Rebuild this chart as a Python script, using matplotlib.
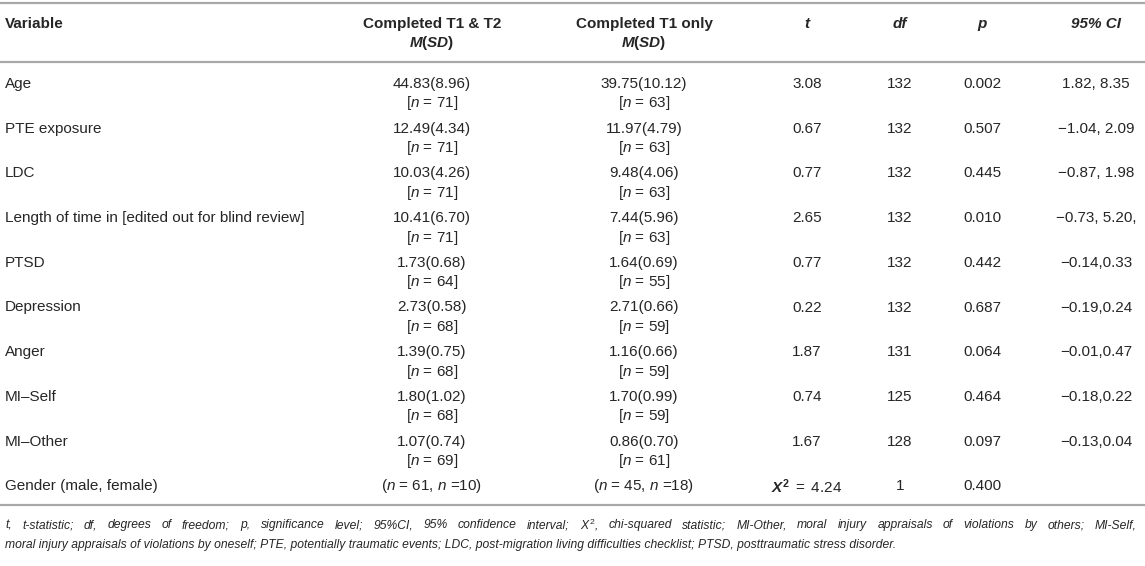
import matplotlib.pyplot as plt

plt.rcParams['font.family'] = ['Liberation Sans', 'DejaVu Sans']
plt.rcParams['mathtext.fontset'] = 'custom'
plt.rcParams['mathtext.rm'] = 'Liberation Sans'
plt.rcParams['mathtext.it'] = 'Liberation Sans:italic'
plt.rcParams['mathtext.bf'] = 'Liberation Sans:bold'
plt.rcParams['mathtext.bfit'] = 'Liberation Sans:bold:italic'

# ---------------- TABLE DATA ---------------- #

variables = ["Age", "PTE exposure", "LDC", "Length of time in [edited out for blind review]",
             "PTSD", "Depression", "Anger", "MI\u2013Self", "MI\u2013Other", "Gender (male, female)"]
msd_both = ["44.83(8.96)", "12.49(4.34)", "10.03(4.26)", "10.41(6.70)", "1.73(0.68)",
            "2.73(0.58)", "1.39(0.75)", "1.80(1.02)", "1.07(0.74)"]
n_both = [71, 71, 71, 71, 64, 68, 68, 68, 69]
msd_t1 = ["39.75(10.12)", "11.97(4.79)", "9.48(4.06)", "7.44(5.96)", "1.64(0.69)",
          "2.71(0.66)", "1.16(0.66)", "1.70(0.99)", "0.86(0.70)"]
n_t1 = [63, 63, 63, 63, 55, 59, 59, 59, 61]
gender_both = (61, 10)
gender_t1 = (45, 18)
t_vals = ["3.08", "0.67", "0.77", "2.65", "0.77", "0.22", "1.87", "0.74", "1.67"]
chi2 = "4.24"
df_vals = ["132", "132", "132", "132", "132", "132", "131", "125", "128", "1"]
p_vals = ["0.002", "0.507", "0.445", "0.010", "0.442", "0.687", "0.064", "0.464", "0.097", "0.400"]
ci_vals = ["1.82, 8.35", "\u22121.04, 2.09", "\u22120.87, 1.98", "\u22120.73, 5.20,", "\u22120.14,0.33",
           "\u22120.19,0.24", "\u22120.01,0.47", "\u22120.18,0.22", "\u22120.13,0.04", ""]

footnote = [
    r"t, t-statistic; df, degrees of freedom; p, significance level; 95%CI, 95% confidence interval; "
    r"$\mathit{X}^{\mathit{2}}$, chi-squared statistic; MI-Other, moral injury appraisals of violations by others; MI-Self,",
    "moral injury appraisals of violations by oneself; PTE, potentially traumatic events; LDC, "
    "post-migration living difficulties checklist; PTSD, posttraumatic stress disorder.",
]

# ---------------- LAYOUT ---------------- #

W, H = 1145, 566
txt = "#262626"
rule = "#a8a8a8"
fs = 11
fs_note = 8.7
x_var, x_both, x_t1, x_t, x_df, x_p, x_ci = 5, 432, 644, 807, 900, 982, 1096
y_top, y_head, y_bottom = 3, 62, 505
y_row0, pitch, gap = 84, 44.7, 19.5

fig = plt.figure(figsize=(W / 100, H / 100), dpi=100)
ax = fig.add_axes([0, 0, 1, 1])
ax.set_xlim(0, W)
ax.set_ylim(H, 0)
ax.axis("off")

for y in (y_top, y_head, y_bottom):
    ax.plot([0, W], [y, y], color=rule, lw=1.6, solid_capstyle="butt")

# header
hy1, hy2 = 24, 43.5
ax.text(x_var, hy1, "Variable", weight="bold", fontsize=fs, color=txt, va="center")
ax.text(x_both, hy1, "Completed T1 & T2", weight="bold", fontsize=fs, color=txt, ha="center", va="center")
ax.text(x_t1, hy1, "Completed T1 only", weight="bold", fontsize=fs, color=txt, ha="center", va="center")
msd = r"$\mathbfit{M}\mathbf{(}\mathbfit{SD}\mathbf{)}$"
ax.text(x_both, hy2, msd, fontsize=fs, color=txt, ha="center", va="center")
ax.text(x_t1, hy2, msd, fontsize=fs, color=txt, ha="center", va="center")
for x, s in [(x_t, "t"), (x_df, "df"), (x_p, "p"), (x_ci, "95% CI")]:
    ax.text(x, hy1, s, weight="bold", style="italic", fontsize=fs, color=txt, ha="center", va="center")

# body rows
for i, var in enumerate(variables):
    y = y_row0 + i * pitch
    ax.text(x_var, y, var, fontsize=fs, color=txt, va="center")
    if i < len(msd_both):
        ax.text(x_both, y, msd_both[i], fontsize=fs, color=txt, ha="center", va="center")
        ax.text(x_both, y + gap, r"[$\mathit{n}$ = %d]" % n_both[i], fontsize=fs, color=txt, ha="center", va="center")
        ax.text(x_t1, y, msd_t1[i], fontsize=fs, color=txt, ha="center", va="center")
        ax.text(x_t1, y + gap, r"[$\mathit{n}$ = %d]" % n_t1[i], fontsize=fs, color=txt, ha="center", va="center")
        ax.text(x_t, y, t_vals[i], fontsize=fs, color=txt, ha="center", va="center")
    else:
        ax.text(x_both, y, r"($\mathit{n}$ = %d, $\mathit{n}$ =%d)" % gender_both, fontsize=fs, color=txt,
                ha="center", va="center")
        ax.text(x_t1, y, r"($\mathit{n}$ = %d, $\mathit{n}$ =%d)" % gender_t1, fontsize=fs, color=txt,
                ha="center", va="center")
        ax.text(x_t, y, r"$\mathbfit{X}^{\mathbf{2}}$$\mathit{\ =\ %s}$" % chi2, fontsize=fs, color=txt,
                ha="center", va="center")
    ax.text(x_df, y, df_vals[i], fontsize=fs, color=txt, ha="center", va="center")
    ax.text(x_p, y, p_vals[i], fontsize=fs, color=txt, ha="center", va="center")
    ax.text(x_ci, y, ci_vals[i], fontsize=fs, color=txt, ha="center", va="center")

# footnote, first line justified to the table width
renderer = fig.canvas.get_renderer()
words = footnote[0].split(" ")
pieces = [ax.text(x_var, 525, w, fontsize=fs_note, style="italic", color=txt, va="center") for w in words]
widths = [p.get_window_extent(renderer).width for p in pieces]
space = (1137 - x_var - sum(widths)) / (len(words) - 1)
x = x_var
for p, w in zip(pieces, widths):
    p.set_x(x)
    x += w + space
ax.text(x_var, 545, footnote[1], fontsize=fs_note, style="italic", color=txt, va="center")

fig.savefig("out.png", dpi=100)
